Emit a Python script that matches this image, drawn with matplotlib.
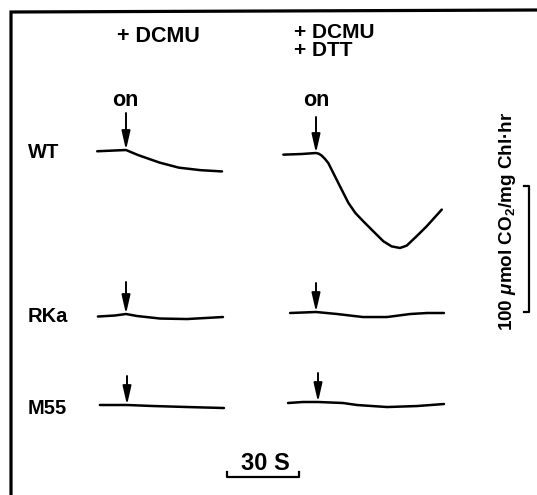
import matplotlib.pyplot as plt

plt.rcParams['font.family'] = ['Liberation Sans', 'DejaVu Sans']
plt.rcParams['mathtext.fontset'] = 'custom'
plt.rcParams['mathtext.rm'] = 'Liberation Sans:bold'
plt.rcParams['mathtext.bf'] = 'Liberation Sans:bold'
plt.rcParams['mathtext.it'] = 'Liberation Sans:bold:italic'

# rows and columns of the figure
strains = ['WT', 'RKa', 'M55']
col_headers = [['+ DCMU'], ['+ DCMU', '+ DTT']]

# traces: time from light on (s), change in rate (umol CO2/mg Chl.hr)
wt_dcmu_t = [-12, 0, 5, 14, 22, 31, 40]
wt_dcmu_v = [-1, 0, -4, -10, -14, -16, -17]

wt_dtt_t = [-13.6, -6, 0, 1.2, 2.4, 3.6, 5.1, 7.9, 10.7, 13.5, 16.4, 19.7, 23.9, 28.1, 31.5, 35.0, 37.8, 41.9, 46.1, 52.4]
wt_dtt_v = [-1.3, -0.8, 0, -0.6, -2.1, -4.4, -7.9, -18.5, -29.1, -39.6, -47.6, -54.2, -62.2, -70.1, -74.1, -75.4, -73.5, -66.1, -58.2, -44.9]

rka_dcmu_t = [-11.7, -4.6, 0, 4.6, 14.2, 25.4, 40.4]
rka_dcmu_v = [-2.0, -1.2, 0, -1.6, -3.6, -4.0, -2.4]

rka_dtt_t = [-10.8, 0, 8.8, 19.6, 29.6, 39.2, 46.3, 53.3]
rka_dtt_v = [-0.8, 0, -1.6, -4.0, -4.0, -1.6, -0.8, -0.8]

m55_dcmu_t = [-11.3, 0, 10.8, 25, 40.4]
m55_dcmu_v = [0, 0, -0.8, -1.6, -2.4]

m55_dtt_t = [-12.5, -6.3, 0, 10.4, 16.3, 28.8, 41.3, 52.5]
m55_dtt_v = [-0.8, 0, 0, -0.8, -2.4, -4.0, -3.2, -1.6]

traces = {
    ('WT', 0): (wt_dcmu_t, wt_dcmu_v), ('WT', 1): (wt_dtt_t, wt_dtt_v),
    ('RKa', 0): (rka_dcmu_t, rka_dcmu_v), ('RKa', 1): (rka_dtt_t, rka_dtt_v),
    ('M55', 0): (m55_dcmu_t, m55_dcmu_v), ('M55', 1): (m55_dtt_t, m55_dtt_v),
}

time_bar = 30      # s
rate_bar = 100     # umol CO2/mg Chl.hr

# ---- layout (pixels) ----
W, H = 537, 495
PX_PER_S = 2.4
PX_PER_UNIT = 1.26
on_px = {('WT', 0): (126, 150), ('WT', 1): (316, 153),
         ('RKa', 0): (126, 314), ('RKa', 1): (316, 312),
         ('M55', 0): (127, 405), ('M55', 1): (318, 402)}
arrow_len = {('WT', 0): 37, ('WT', 1): 36, ('RKa', 0): 32, ('RKa', 1): 29,
             ('M55', 0): 29, ('M55', 1): 29}
label_y = {'WT': 152, 'RKa': 317, 'M55': 409}

fig = plt.figure(figsize=(W / 100, H / 100), dpi=100)

# layout axes in pixel units
lay = fig.add_axes([0, 0, 1, 1])
lay.set_xlim(0, W)
lay.set_ylim(H, 0)
lay.axis('off')

# data axes: seconds and rate units
ax = fig.add_axes([0, 0, 1, 1])
ax.set_xlim(0, W / PX_PER_S)
ax.set_ylim(-H / PX_PER_UNIT, 0)
ax.axis('off')

def to_data(px, py):
    return px / PX_PER_S, -py / PX_PER_UNIT

# frame
lay.plot([11, 11, W], [H, 12, 10], color='black', lw=2.3, solid_joinstyle='miter')

txt = dict(color='black', fontweight='bold')
for s in strains:
    lay.text(28, label_y[s], s, fontsize=14.5, ha='left', va='center', **txt)

lay.text(158, 37, col_headers[0][0], fontsize=15.5, ha='center', va='center', **txt)
lay.text(294, 33, col_headers[1][0], fontsize=15, ha='left', va='center', **txt)
lay.text(294, 51, col_headers[1][1], fontsize=15, ha='left', va='center', **txt)

lay.text(125, 100, 'on', fontsize=15.5, ha='center', va='center', **txt)
lay.text(316, 101, 'on', fontsize=15.5, ha='center', va='center', **txt)

for key, (t, v) in traces.items():
    x0, y0 = to_data(*on_px[key])
    ax.plot([x0 + a for a in t], [y0 + b for b in v], color='black', lw=1.8,
            solid_capstyle='round', solid_joinstyle='round')
    px, py = on_px[key]
    ax.annotate('', xy=to_data(px, py), xytext=to_data(px, py - arrow_len[key]),
                arrowprops=dict(arrowstyle='-|>,head_length=0.7,head_width=0.16',
                                mutation_scale=16, lw=1.4, color='black',
                                shrinkA=0, shrinkB=0))

# time scale bar
bx, by = to_data(227, 477)
tick = 5 / PX_PER_UNIT
ax.plot([bx, bx, bx + time_bar, bx + time_bar], [by + tick, by, by, by + tick],
        color='black', lw=1.6)
lay.text(265, 463, '30 S', fontsize=17, ha='center', va='center', **txt)

# rate scale bar
rx, ry = to_data(529, 186)
tk = 5 / PX_PER_S
ax.plot([rx - tk, rx, rx, rx - tk], [ry, ry, ry - rate_bar, ry - rate_bar],
        color='black', lw=1.6)
lay.text(507, 221, r'100 $\mathit{\mu}$mol CO$_2$/mg Chl·hr', fontsize=13.6,
         rotation=90, ha='center', va='center', **txt)

fig.savefig('out.png', dpi=100)
